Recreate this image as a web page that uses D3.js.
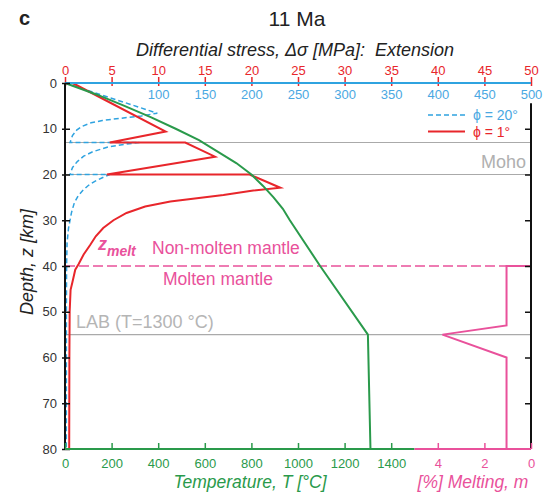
<!DOCTYPE html>
<html>
<head>
<meta charset="utf-8">
<script src="https://cdn.jsdelivr.net/npm/d3@7"></script>
<style>
body { margin: 0; background: #fff; }
svg { font-family: "Liberation Sans", Arial, sans-serif; }
</style>
</head>
<body>
<script>
var width = 543, height = 497;
var plot = {left: 65, right: 531, top: 83, bottom: 449};

var red = "#e8262b", blue = "#2fa3e0", blueText = "#4aa8e2", green = "#2a9a4b",
    pink = "#e9519b", grey = "#aaaaaa", dark = "#222";

// tick labels
var depthTicks = [0, 10, 20, 30, 40, 50, 60, 70, 80];
var stressTicks1 = [0, 5, 10, 15, 20, 25, 30, 35, 40, 45, 50];
var stressTicks20 = [100, 150, 200, 250, 300, 350, 400, 450, 500];
var tempTicks = [0, 200, 400, 600, 800, 1000, 1200, 1400];
var meltTicks = [4, 2, 0];

// boundaries [km]
var boundaries = [13, 20, 55];
var zMelt = 40;

// phi = 1 deg, stress [MPa] (top red axis)
var phi1Depth  = [0, 10.6, 13, 13, 16.1, 20, 20, 22.9, 23.5, 24.5, 25.9, 27, 28.4, 30, 31.7, 33.5, 35.4, 37.5, 39.6, 40.8, 43.5, 45.2, 50, 60, 80];
var phi1Stress = [0.8, 10.8, 4.8, 12.9, 16.1, 4.5, 19.8, 23.1, 20.2, 17, 11.3, 8.6, 6.6, 5.2, 4.1, 3.3, 2.7, 2.0, 1.45, 1.1, 0.8, 0.6, 0.5, 0.47, 0.45];

// phi = 20 deg, stress [MPa] (top blue axis)
var phi20Depth  = [0, 6.6, 7.2, 7.7, 8.2, 8.7, 9.5, 10.3, 11.5, 13, 13, 13.4, 14, 15, 16, 17.2, 18.5, 20, 20, 20.7, 21.5, 22.4, 23.5, 24.7, 26.2, 28.3, 31.7, 35, 40, 50, 80];
var phi20Stress = [0, 99, 82, 60, 40, 28, 18, 12.5, 8, 5.4, 80, 64, 46, 30, 20, 13, 8, 5.4, 48, 40, 32, 25, 19, 14, 10, 7, 3.8, 2.2, 1.7, 1.5, 1.4];

// temperature [C]
var tempDepth = [0, 2.5, 5, 7.5, 10, 12.5, 15, 17.5, 20, 22.5, 25, 27.5, 30, 40, 55, 80];
var tempValue = [0, 135, 255, 370, 475, 575, 655, 735, 800, 850, 895, 935, 965, 1095, 1300, 1311];

// melting [%]
var meltDepth = [40, 40, 53, 55, 60, 80];
var meltValue = [0, 1.05, 1.05, 3.8, 1.05, 1.05];

var svg = d3.select("body").append("svg")
  .attr("width", width)
  .attr("height", height);

var y = d3.scaleLinear().domain([0, 80]).range([plot.top, plot.bottom]);
var xS1 = d3.scaleLinear().domain([0, 50]).range([plot.left, plot.right]);
var xS20 = d3.scaleLinear().domain([0, 500]).range([plot.left, plot.right]);
var xT = d3.scaleLinear().domain([0, 2000]).range([plot.left, plot.right]);
var xM = d3.scaleLinear().domain([5, 0]).range([xT(1500), plot.right]);
var fmt = d3.format("d");

// horizontal reference lines
svg.selectAll(".bound")
  .data(boundaries)
  .enter()
  .append("line")
    .attr("x1", plot.left).attr("x2", plot.right)
    .attr("y1", d => y(d)).attr("y2", d => y(d))
    .attr("stroke", grey).attr("stroke-width", 1.2);

svg.append("line")
  .attr("x1", plot.left).attr("x2", plot.right)
  .attr("y1", y(zMelt)).attr("y2", y(zMelt))
  .attr("stroke", pink).attr("stroke-width", 1.5)
  .attr("stroke-dasharray", "10,4");

// curves
function drawCurve(depths, values, xScale, color, dash) {
  var pts = depths.map((d, i) => [xScale(values[i]), y(d)]);
  svg.append("path")
    .attr("d", d3.line()(pts))
    .attr("fill", "none")
    .attr("stroke", color)
    .attr("stroke-width", dash ? 1.5 : 2)
    .attr("stroke-linejoin", "miter")
    .attr("stroke-dasharray", dash || null);
}

drawCurve(phi20Depth, phi20Stress, xS20, blue, "5,3");
drawCurve(phi1Depth, phi1Stress, xS1, red);
drawCurve(tempDepth, tempValue, xT, green);
drawCurve(meltDepth, meltValue, xM, pink);

// top axes
var topRed = svg.append("g")
  .attr("transform", "translate(0," + plot.top + ")")
  .call(d3.axisTop(xS1).tickValues(stressTicks1).tickFormat(fmt).tickSize(6).tickPadding(2));
topRed.select(".domain").remove();
topRed.selectAll("line").attr("stroke", red).attr("stroke-width", 1.5).attr("y1", 3);
topRed.selectAll("text").attr("fill", red).style("font-size", "13px");

var topBlue = svg.append("g")
  .attr("transform", "translate(0," + plot.top + ")")
  .call(d3.axisBottom(xS20).tickValues(stressTicks20).tickFormat(fmt).tickSize(0).tickPadding(7));
topBlue.select(".domain").remove();
topBlue.selectAll("text").attr("fill", blueText).style("font-size", "13px");

svg.append("line")
  .attr("x1", plot.left).attr("x2", plot.right)
  .attr("y1", plot.top).attr("y2", plot.top)
  .attr("stroke", blue).attr("stroke-width", 2);

// left axis
var left = svg.append("g")
  .attr("transform", "translate(" + plot.left + ",0)")
  .call(d3.axisLeft(y).tickValues(depthTicks).tickFormat(fmt).tickSize(3).tickPadding(5));
left.select(".domain").remove();
left.selectAll("line").attr("stroke", "#111").attr("stroke-width", 1.5).attr("x1", 5);
left.selectAll("text").attr("fill", "#333").style("font-size", "13px");

svg.append("line")
  .attr("x1", plot.left).attr("x2", plot.left)
  .attr("y1", plot.top).attr("y2", plot.bottom)
  .attr("stroke", "#111").attr("stroke-width", 2);

// right axis
var right = svg.append("g")
  .attr("transform", "translate(" + plot.right + ",0)")
  .call(d3.axisRight(y).tickValues(depthTicks.slice(1, 8)).tickSize(-6).tickFormat(""));
right.select(".domain").remove();
right.selectAll("line").attr("stroke", "#111").attr("stroke-width", 1.5);

svg.append("line")
  .attr("x1", plot.right).attr("x2", plot.right)
  .attr("y1", y(4.4)).attr("y2", plot.bottom)
  .attr("stroke", "#111").attr("stroke-width", 2);

// bottom axes
var bottomT = svg.append("g")
  .attr("transform", "translate(0," + plot.bottom + ")")
  .call(d3.axisBottom(xT).tickValues(tempTicks).tickFormat(fmt).tickSizeInner(-6).tickSizeOuter(0).tickPadding(10));
bottomT.select(".domain").remove();
bottomT.selectAll("line").attr("stroke", green).attr("stroke-width", 1.5);
bottomT.selectAll("text").attr("fill", green).style("font-size", "13px");

var bottomM = svg.append("g")
  .attr("transform", "translate(0," + plot.bottom + ")")
  .call(d3.axisBottom(xM).tickValues(meltTicks).tickFormat(fmt).tickSizeInner(-6).tickSizeOuter(0).tickPadding(10));
bottomM.select(".domain").remove();
bottomM.selectAll("line").attr("stroke", pink).attr("stroke-width", 1.5);
bottomM.selectAll("text").attr("fill", pink).style("font-size", "13px");

svg.append("line")
  .attr("x1", plot.left).attr("x2", xT(1500))
  .attr("y1", plot.bottom).attr("y2", plot.bottom)
  .attr("stroke", green).attr("stroke-width", 2);
svg.append("line")
  .attr("x1", xT(1500)).attr("x2", plot.right)
  .attr("y1", plot.bottom).attr("y2", plot.bottom)
  .attr("stroke", pink).attr("stroke-width", 2);

// titles
svg.append("text").text("c")
  .attr("x", 19).attr("y", 25)
  .style("font-size", "20px").style("font-weight", "bold").attr("fill", dark);

svg.append("text").text("11 Ma")
  .attr("x", 297).attr("y", 26).attr("text-anchor", "middle")
  .style("font-size", "21px").attr("fill", dark);

svg.append("text").text("Differential stress, \u0394\u03c3 [MPa]:\u00a0 Extension")
  .attr("x", 295).attr("y", 56).attr("text-anchor", "middle")
  .style("font-size", "18px").style("font-style", "italic").attr("fill", dark);

svg.append("text").text("Depth, z [km]")
  .attr("transform", "translate(33,262) rotate(-90)")
  .attr("text-anchor", "middle")
  .style("font-size", "18px").style("font-style", "italic").attr("fill", dark);

svg.append("text").text("Temperature, T [\u00b0C]")
  .attr("x", 250).attr("y", 488).attr("text-anchor", "middle")
  .style("font-size", "17.5px").style("font-style", "italic").attr("fill", green);

svg.append("text").text("[%] Melting, m")
  .attr("x", 473).attr("y", 488).attr("text-anchor", "middle")
  .style("font-size", "17.5px").style("font-style", "italic").attr("fill", pink);

// labels in the plot
svg.append("text").text("Moho")
  .attr("x", 526).attr("y", 168).attr("text-anchor", "end")
  .style("font-size", "18px").attr("fill", "#b0b0b0");

svg.append("text").text("LAB (T=1300 \u00b0C)")
  .attr("x", 76).attr("y", 328)
  .style("font-size", "18px").attr("fill", "#b5b5b5");

var zm = svg.append("text")
  .attr("x", 98).attr("y", 250)
  .style("font-weight", "bold").style("font-style", "italic").attr("fill", pink);
zm.append("tspan").text("z").style("font-size", "18px");
zm.append("tspan").text("melt").attr("dy", 6).style("font-size", "14px");

svg.append("text").text("Non-molten mantle")
  .attr("x", 152).attr("y", 254)
  .style("font-size", "17.5px").attr("fill", pink);

svg.append("text").text("Molten mantle")
  .attr("x", 163).attr("y", 285)
  .style("font-size", "17.5px").attr("fill", pink);

// legend
var legend = [
  {label: "\u03d5 = 20\u00b0", color: blue, dash: "5,3", textColor: blueText},
  {label: "\u03d5 = 1\u00b0", color: red, dash: null, textColor: red}
];
var lg = svg.selectAll(".legend")
  .data(legend)
  .enter()
  .append("g")
    .attr("transform", (d, i) => "translate(428," + (115 + i * 16.5) + ")");
lg.append("line")
  .attr("x1", 0).attr("x2", 37)
  .attr("stroke", d => d.color)
  .attr("stroke-width", d => d.dash ? 1.5 : 2)
  .attr("stroke-dasharray", d => d.dash);
lg.append("text")
  .text(d => d.label)
  .attr("x", 45).attr("y", 5)
  .style("font-size", "14px").attr("fill", d => d.textColor);
</script>
</body>
</html>
